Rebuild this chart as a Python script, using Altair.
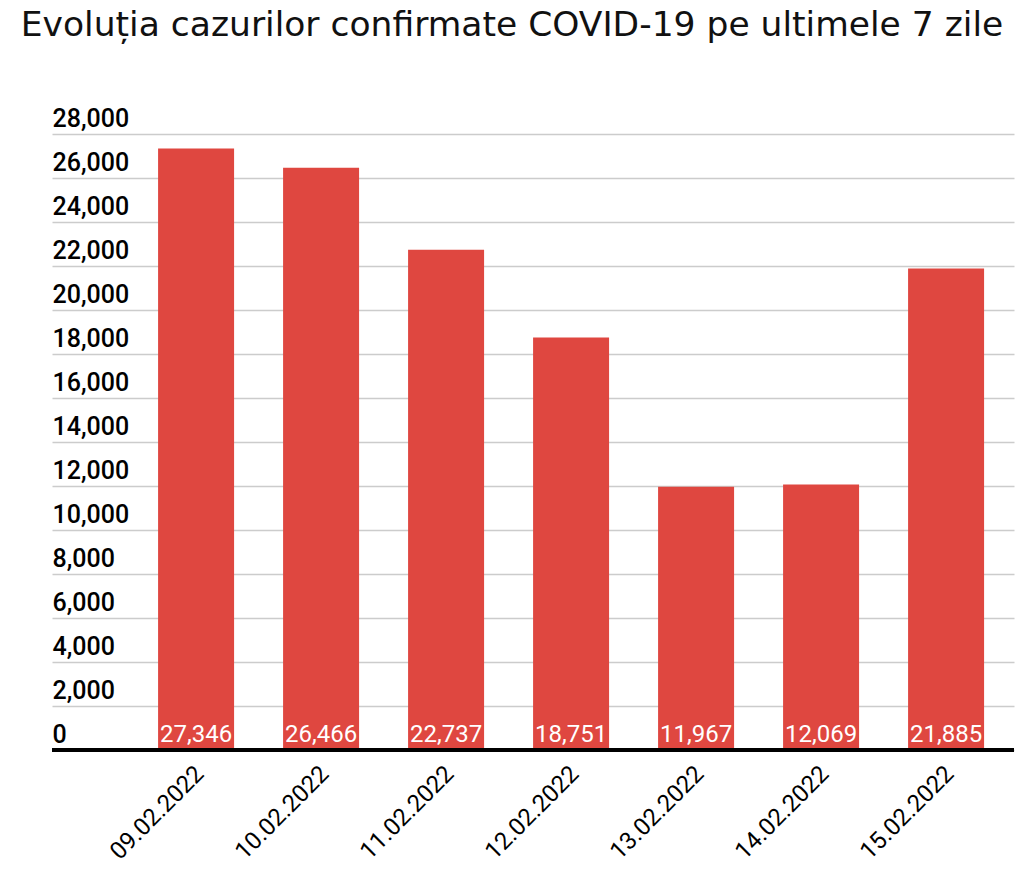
import altair as alt
import pandas as pd

dates = ["09.02.2022", "10.02.2022", "11.02.2022", "12.02.2022",
         "13.02.2022", "14.02.2022", "15.02.2022"]
cases = [27346, 26466, 22737, 18751, 11967, 12069, 21885]
y_ticks = list(range(0, 28001, 2000))
title_text = "Evoluția cazurilor confirmate COVID-19 pe ultimele 7 zile"

df = pd.DataFrame({"date": dates, "cases": cases})

BAR = "#DF4740"

xenc = alt.X(
    "date:N",
    sort=dates,
    title=None,
    scale=alt.Scale(paddingInner=0.392, paddingOuter=0.544, align=0.78),
    axis=alt.Axis(
        labelAngle=315,
        labelAlign="right",
        labelBaseline="middle",
        labelPadding=20,
        labelOffset=4,
        labelFont="Roboto",
        labelFontSize=24,
        labelColor="#000000",
        domain=False,
        ticks=False,
        grid=False,
    ),
)

yenc = alt.Y(
    "cases:Q",
    title=None,
    scale=alt.Scale(domain=[0, 28000], nice=False),
    axis=alt.Axis(
        values=y_ticks,
        format=",d",
        labelAlign="left",
        labelBaseline="alphabetic",
        labelPadding=0,
        labelOffset=-8,
        labelFont="Roboto",
        labelFontSize=25,
        labelFontWeight=500,
        labelColor="#000000",
        domain=False,
        ticks=False,
        tickSize=0,
        grid=True,
        gridColor="#cccccc",
        gridWidth=1.5,
    ),
)

bars = alt.Chart(df).mark_bar(color=BAR).encode(x=xenc, y=yenc)

labels = alt.Chart(df).mark_text(
    color="white", font="Roboto", fontSize=24, baseline="alphabetic", dy=-8
).encode(
    x=alt.X("date:N", sort=dates),
    y=alt.datum(0),
    text=alt.Text("cases:Q", format=",d"),
)

base = alt.Chart(df).mark_rule(color="black", strokeWidth=4).encode(y=alt.datum(0))

chart = alt.layer(bars, labels, base).properties(
    width=962,
    height=616,
    padding={"left": 44, "top": 126, "right": 2, "bottom": 125},
    autosize=alt.AutoSizeParams(type="none"),
    title=alt.TitleParams(
        title_text,
        font="DejaVu Sans",
        fontSize=34.5,
        fontWeight="normal",
        color="#111111",
        anchor="middle",
        frame="group",
        baseline="alphabetic",
        offset=36,
        dx=-21,
    ),
).configure_view(stroke=None)

chart.save("out.html", embed_options={"renderer": "svg", "actions": False})
